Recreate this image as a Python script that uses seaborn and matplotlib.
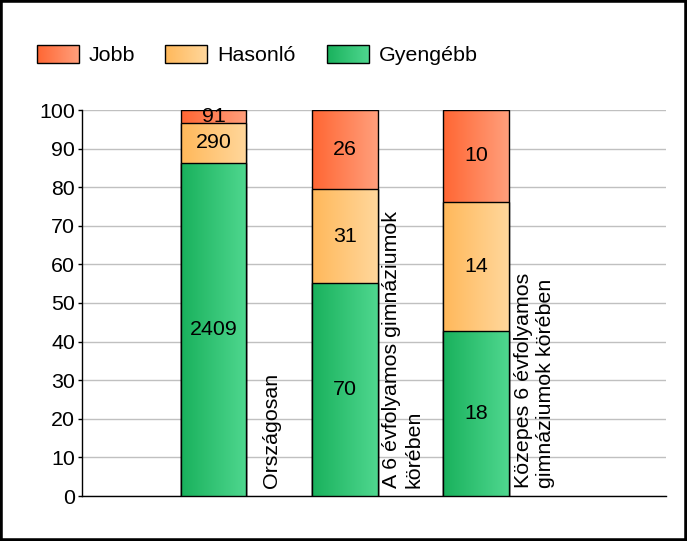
import numpy as np
import pandas as pd
import matplotlib
matplotlib.use("Agg")
import matplotlib.pyplot as plt
import seaborn as sns
from matplotlib.colors import LinearSegmentedColormap
from matplotlib.patches import Rectangle

# ================================
# Data
# ================================
categories = ["Országosan",
              "A 6 évfolyamos gimnáziumok\nkörében",
              "Közepes 6 évfolyamos\ngimnáziumok körében"]
jobb = [91, 26, 10]
hasonlo = [290, 31, 14]
gyengebb = [2409, 70, 18]
series_names = ["Jobb", "Hasonló", "Gyengébb"]
y_ticks = list(range(0, 101, 10))

# gradient colours (left -> right)
grad_colors = {
    "Jobb": ("#FF6633", "#FF9F7C"),
    "Hasonló": ("#FFB85A", "#FFD79C"),
    "Gyengébb": ("#19B15C", "#4FD78F"),
}

FS = 15.4
sns.set_theme(style="white")
plt.rcParams["font.family"] = ["Liberation Sans", "DejaVu Sans"]

counts = pd.DataFrame({"Jobb": jobb, "Hasonló": hasonlo, "Gyengébb": gyengebb},
                      index=categories)
pct = counts.div(counts.sum(axis=1), axis=0) * 100
cum_green = pct["Gyengébb"]
cum_mid = cum_green + pct["Hasonló"]
cum_top = cum_mid + pct["Jobb"]

fig = plt.figure(figsize=(6.87, 5.41), dpi=100)
ax = fig.add_axes([82 / 687, 1 - 496 / 541, (665.5 - 82) / 687, (496 - 110) / 541])

grad = np.linspace(0, 1, 256).reshape(1, -1)
layers = [("Jobb", cum_top), ("Hasonló", cum_mid), ("Gyengébb", cum_green)]
for i, (name, vals) in enumerate(layers):
    n0 = len(ax.patches)
    df = pd.DataFrame({"cat": categories, "val": vals.values})
    sns.barplot(data=df, x="cat", y="val", color=grad_colors[name][0], width=0.5,
                edgecolor="black", linewidth=1, errorbar=None, ax=ax)
    cmap = LinearSegmentedColormap.from_list(name, grad_colors[name])
    for p in ax.patches[n0:]:
        x0, y0 = p.get_x(), p.get_y()
        w, h = p.get_width(), p.get_height()
        im = ax.imshow(grad, extent=[x0, x0 + w, y0, y0 + h], aspect="auto",
                       cmap=cmap, interpolation="bilinear", zorder=2 + i)
        im.set_clip_path(p)
        p.set_facecolor("none")
        p.set_zorder(2.5 + i)

# value labels centred in each segment
for j in range(len(categories)):
    bottoms = [0, cum_green.iloc[j], cum_mid.iloc[j]]
    heights = [pct["Gyengébb"].iloc[j], pct["Hasonló"].iloc[j], pct["Jobb"].iloc[j]]
    values = [gyengebb[j], hasonlo[j], jobb[j]]
    for b, h, v in zip(bottoms, heights, values):
        ax.text(j, b + h / 2, str(v), ha="center", va="center", fontsize=FS,
                color="black", zorder=10)
    # category label, rotated, right of the bar
    ax.text(j + 0.44, 2, categories[j], rotation=90, ha="center", va="bottom",
            multialignment="left", fontsize=FS, color="black", zorder=10)

ax.set_xlim(-1, 3.44)
ax.set_ylim(0, 100)
ax.set_yticks(y_ticks)
ax.set_xticks([])
ax.set_xlabel("")
ax.set_ylabel("")
ax.yaxis.grid(True, color="#C0C0C0", linewidth=1)
ax.set_axisbelow(True)
ax.tick_params(axis="y", left=True, length=3, width=1, color="black",
               labelsize=FS, labelcolor="black", pad=2)
for s in ["top", "right"]:
    ax.spines[s].set_visible(False)
for s in ["left", "bottom"]:
    ax.spines[s].set_color("black")
    ax.spines[s].set_linewidth(1)

# ================================
# Legend (manual, with gradients) + frame
# ================================
lax = fig.add_axes([0, 0, 1, 1], zorder=5)
lax.axis("off")
legend_x = [37, 165, 327]
for name, lx in zip(series_names, legend_x):
    cmap = LinearSegmentedColormap.from_list(name + "_leg", grad_colors[name])
    lax.imshow(grad, extent=[lx, lx + 42, 63, 45], aspect="auto", cmap=cmap,
               interpolation="bilinear")
    lax.add_patch(Rectangle((lx, 45), 42, 18, fill=False, edgecolor="black", lw=1))
    lax.text(lx + 52, 61, name, ha="left", va="baseline", fontsize=FS, color="black")
lax.add_patch(Rectangle((0, 0), 687, 541, fill=False, edgecolor="black", lw=4))
lax.set_xlim(0, 687)
lax.set_ylim(541, 0)

fig.savefig("out.png", dpi=100)
